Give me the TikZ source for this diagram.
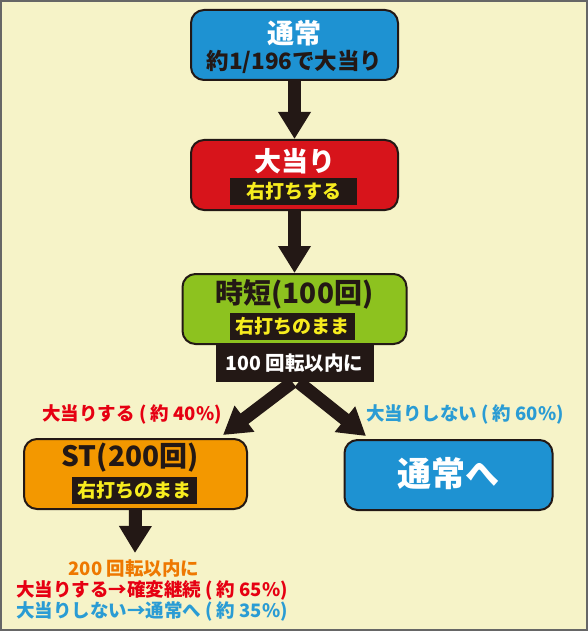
\documentclass[tikz,border=0pt]{standalone}
\usepackage{fontspec}
\setmainfont{Noto Sans CJK JP}
\usetikzlibrary{arrows.meta}
\definecolor{bgcream}{HTML}{F6F3C8}
\definecolor{inkdark}{HTML}{231815}
\definecolor{boxblue}{HTML}{1E92D2}
\definecolor{boxred}{HTML}{D7141B}
\definecolor{boxgreen}{HTML}{8DC21F}
\definecolor{boxorange}{HTML}{F39800}
\definecolor{tagyellow}{HTML}{F7EC1E}
\definecolor{txtred}{HTML}{E60012}
\definecolor{txtblue}{HTML}{2A9CD4}
\definecolor{txtorange}{HTML}{EE7800}

\begin{document}
\begin{tikzpicture}[x=1pt,y=-1pt,
  font=\bfseries,
  box/.style={draw=inkdark, line width=2pt, rounded corners=13pt, minimum height=70pt, inner sep=0pt},
  title/.style={inner sep=0pt, font=\bfseries\fontsize{28}{28}\selectfont},
  tag/.style={fill=inkdark, text=tagyellow, inner sep=0pt, minimum height=27pt, font=\bfseries\fontsize{19}{19}\selectfont},
  note/.style={inner sep=0pt, font=\bfseries\fontsize{18.5}{18.5}\selectfont},
  bigarrow/.style={draw=inkdark, line width=13pt, -{Triangle[width=31pt,length=27pt]}}]
\useasboundingbox (0,0) rectangle (588,631);
\fill[bgcream] (0,0) rectangle (588,631);
\draw[gray!80!black, line width=2pt] (1,1) rectangle (587,630);
% boxes
\node[box, fill=boxblue, minimum width=207pt] (tuujou) at (294.5,45) {};
\node[title, text=white, font=\bfseries\fontsize{27}{27}\selectfont] (tuujouT) at (294.5,33) {通常};
\node[title, text=inkdark, font=\bfseries\fontsize{22.5}{22.5}\selectfont] (kakuritsu) at (294.5,62) {約1/196で大当り};
\node[box, fill=boxred, minimum width=207pt] (atari) at (294.5,175) {};
\node[title, text=white, font=\bfseries\fontsize{27}{27}\selectfont] (atariT) at (294.5,161) {大当り};
\node[tag, minimum width=127pt] (atariTag) at (293.5,191.5) {右打ちする};
\node[box, fill=boxgreen, minimum width=224pt] (jitan) at (294.5,309) {};
\node[title, text=inkdark] (jitanT) at (294.5,294) {時短(100回)};
\node[tag, minimum width=125pt] (jitanTag) at (292.5,326) {右打ちのまま};
\node[box, fill=boxorange, minimum width=223pt] (st) at (135.5,474) {};
\node[title, text=inkdark] (stT) at (130,458) {ST(200回)};
\node[tag, minimum width=125pt] (stTag) at (134.5,490.5) {右打ちのまま};
\node[box, fill=boxblue, minimum width=208pt] (modori) at (448.5,475) {};
\node[title, text=white, font=\bfseries\fontsize{34}{34}\selectfont] (modoriT) at (448.5,474) {通常へ};
% arrows
\coordinate (hitL) at (223,435);
\coordinate (hitR) at (366,436);
\coordinate (stEnd) at (135,553);
\node[fill=inkdark, text=white, inner sep=0pt, minimum width=158pt, minimum height=38pt, font=\bfseries\fontsize{19.5}{19.5}\selectfont] (jouken) at (294.5,363) {100 回転以内に};
\draw[bigarrow] (tuujou.south) -- (atari.north);
\draw[bigarrow] (atari.south) -- (jitan.north);
\draw[bigarrow] ([xshift=-2pt]jouken.south) -- (hitL);
\draw[bigarrow] ([xshift=4pt]jouken.south) -- (hitR);
\draw[bigarrow] (st.south) -- (stEnd);
% texts
\node[note, text=txtred] (hitLabel) at (132,414) {大当りする ( 約 40\%)};
\node[note, text=txtblue] (missLabel) at (465,414) {大当りしない ( 約 60\%)};
\node[note, text=txtorange] (stNote1) at (134,568) {200 回転以内に};
\node[note, text=txtred] (stNote2) at (152,590) {大当りする→確変継続 ( 約 65\%)};
\node[note, text=txtblue] (stNote3) at (152,611) {大当りしない→通常へ ( 約 35\%)};
\end{tikzpicture}
\end{document}
